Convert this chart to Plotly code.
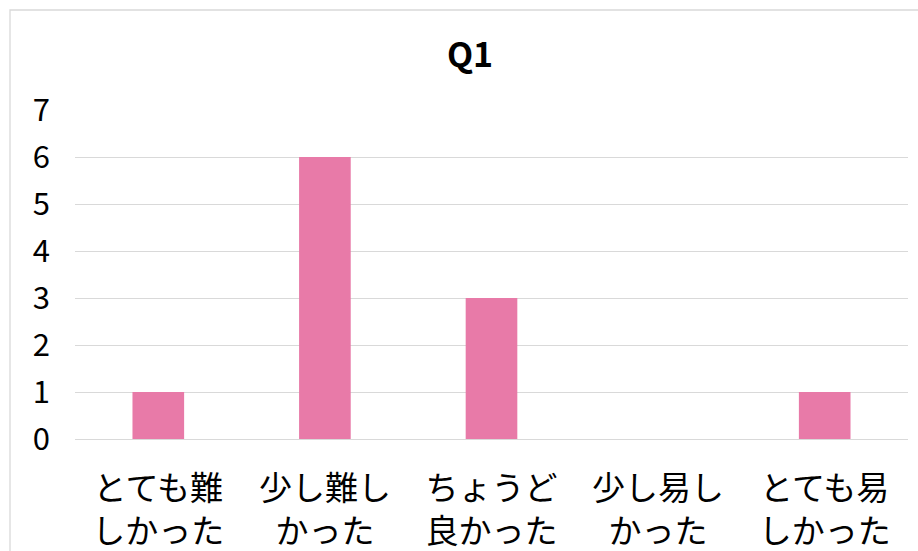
import plotly.graph_objects as go

categories = ["とても難<br>しかった", "少し難し<br>かった", "ちょうど<br>良かった", "少し易し<br>かった", "とても易<br>しかった"]
values = [1, 6, 3, 0, 1]
y_ticks = [0, 1, 2, 3, 4, 5, 6, 7]
title_text = "Q1"

font_family = "Noto Sans CJK JP, Lato, sans-serif"

fig = go.Figure(go.Bar(
    x=categories, y=values,
    marker=dict(color="#E87AA8", line=dict(width=0)),
    width=0.31,
))

L, R, T, B = 75, 10, 110, 112
W, H = 918, 551
pw, ph = W - L - R, H - T - B

fig.update_layout(
    width=W, height=H,
    margin=dict(l=L, r=R, t=T, b=B),
    paper_bgcolor="white", plot_bgcolor="white",
    font=dict(family=font_family, color="#000000"),
    title=dict(text="<b>" + title_text + "</b>", x=(470) / W, xanchor="center",
               y=1 - 55 / H, yanchor="middle", font=dict(size=34, color="#000000")),
    showlegend=False,
    xaxis=dict(showline=False, ticks="", tickfont=dict(size=33), showgrid=False,
               ticklabelstandoff=27, automargin=False),
    yaxis=dict(range=[0, 7], tickvals=y_ticks, showgrid=True, gridcolor="#D9D9D9",
               gridwidth=1.3, zeroline=True, zerolinecolor="#D9D9D9", zerolinewidth=1.3,
               showline=False, ticks="", tickfont=dict(size=31), ticklabelstandoff=24,
               automargin=False),
    shapes=[dict(type="rect", xref="paper", yref="paper",
                 x0=(10 - L) / pw, x1=(W + 20 - L) / pw,
                 y0=-(H + 20 - (H - B)) / ph, y1=((H - B) - 10) / ph,
                 line=dict(color="#D9D9D9", width=1.3), layer="below")],
)

fig.write_html("out.html")
